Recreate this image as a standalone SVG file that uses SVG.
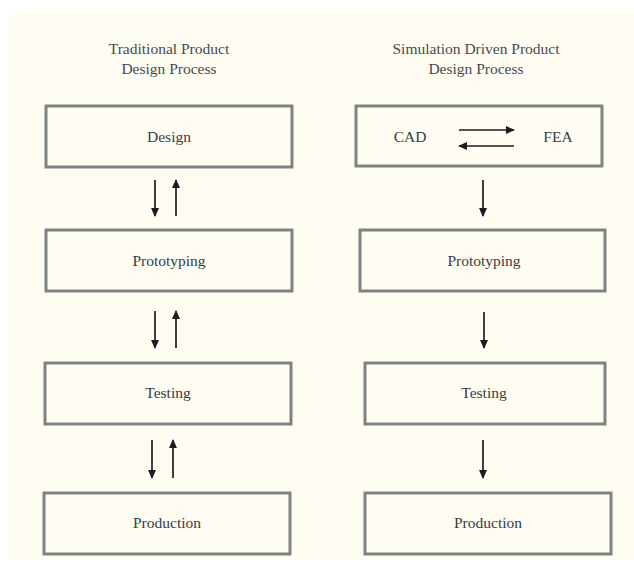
<svg xmlns="http://www.w3.org/2000/svg" width="634" height="565" viewBox="0 0 634 565">
  <defs>
    <marker id="head" viewBox="0 0 10 10" refX="9" refY="5" markerWidth="5.5" markerHeight="5.5" orient="auto-start-reverse" markerUnits="strokeWidth">
      <path d="M0,0.5 L10,5 L0,9.5 z" fill="#1a1d22"/>
    </marker>
    <style>
      .box { fill: none; stroke: #7d8385; stroke-width: 3; }
      .lbl { font-family: "Liberation Serif", "Times New Roman", serif; font-size: 15.5px; fill: #343d48; text-anchor: middle; }
      .ttl { font-family: "Liberation Serif", "Times New Roman", serif; font-size: 15.5px; fill: #434b54; text-anchor: middle; }
      .arr { stroke: #1a1d22; stroke-width: 1.7; fill: none; marker-end: url(#head); }
    </style>
  </defs>

  <!-- page -->
  <rect x="0" y="0" width="634" height="565" fill="#ffffff"/>
  <rect x="9" y="10" width="625" height="550" fill="#fffcf1"/>

  <!-- column titles -->
  <g id="title-left">
    <text class="ttl" x="169" y="54">Traditional Product</text>
    <text class="ttl" x="169" y="74">Design Process</text>
  </g>
  <g id="title-right">
    <text class="ttl" x="476" y="54">Simulation Driven Product</text>
    <text class="ttl" x="476" y="74">Design Process</text>
  </g>

  <!-- traditional process -->
  <g id="design">
    <rect class="box" x="46" y="106" width="246" height="61"/>
    <text class="lbl" x="169" y="142">Design</text>
  </g>
  <g id="prototyping-left">
    <rect class="box" x="46" y="230" width="246" height="61"/>
    <text class="lbl" x="169" y="266">Prototyping</text>
  </g>
  <g id="testing-left">
    <rect class="box" x="45" y="363" width="246" height="61"/>
    <text class="lbl" x="168" y="398">Testing</text>
  </g>
  <g id="production-left">
    <rect class="box" x="44" y="493" width="246" height="61"/>
    <text class="lbl" x="167" y="528">Production</text>
  </g>

  <!-- simulation driven process -->
  <g id="cad-fea">
    <rect class="box" x="356" y="106" width="246" height="60"/>
    <text class="lbl" x="410" y="142">CAD</text>
    <text class="lbl" x="558" y="142">FEA</text>
  </g>
  <g id="prototyping-right">
    <rect class="box" x="360" y="230" width="245" height="61"/>
    <text class="lbl" x="484" y="266">Prototyping</text>
  </g>
  <g id="testing-right">
    <rect class="box" x="365" y="363" width="240" height="61"/>
    <text class="lbl" x="484" y="398">Testing</text>
  </g>
  <g id="production-right">
    <rect class="box" x="365" y="493" width="246" height="61"/>
    <text class="lbl" x="488" y="528">Production</text>
  </g>

  <!-- connectors -->
  <g id="connectors">
    <!-- traditional: two-way links -->
    <line class="arr" x1="155" y1="180" x2="155" y2="216"/>
    <line class="arr" x1="176" y1="216" x2="176" y2="180"/>
    <line class="arr" x1="155" y1="311" x2="155" y2="348"/>
    <line class="arr" x1="176" y1="348" x2="176" y2="311"/>
    <line class="arr" x1="152" y1="440" x2="152" y2="478"/>
    <line class="arr" x1="173" y1="478" x2="173" y2="440"/>
    <!-- CAD / FEA loop -->
    <line class="arr" x1="459" y1="130" x2="514" y2="130"/>
    <line class="arr" x1="514" y1="146" x2="459" y2="146"/>
    <!-- simulation driven: one-way links -->
    <line class="arr" x1="483" y1="180" x2="483" y2="216"/>
    <line class="arr" x1="484" y1="312" x2="484" y2="348"/>
    <line class="arr" x1="483" y1="440" x2="483" y2="478"/>
  </g>
</svg>
